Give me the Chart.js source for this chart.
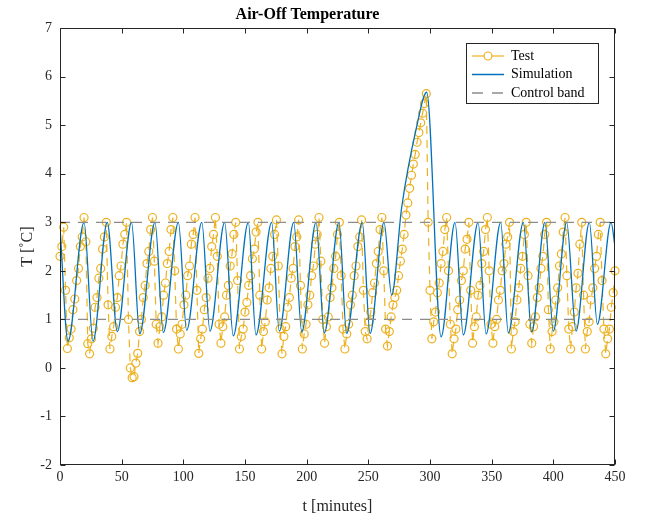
<!DOCTYPE html>
<html>
<head>
<meta charset="utf-8">
<script src="https://cdn.jsdelivr.net/npm/chart.js@4/dist/chart.umd.min.js"></script>
<style>
  html, body { margin: 0; padding: 0; background: #fff; }
</style>
</head>
<body>
<canvas id="chart" width="645" height="520"></canvas>
<script>
// measured air-off temperature, one sample every 1.5 minutes from t = 0
const testStep = 1.5;
const testTemp = [
  2.3, 2.5, 2.9, 1.6, 0.4, 0.62, 0.8, 1.2, 1.42, 1.8,
  2.05, 2.5, 2.7, 3.1, 2.6, 0.5, 0.29, 0.6, 0.82, 1.25,
  1.45, 1.85, 2.05, 2.45, 2.7, 3.0, 1.3, 0.39, 0.65, 0.85,
  1.25, 1.45, 1.9, 2.1, 2.55, 2.75, 3.0, 1.0, 0.0, -0.2,
  -0.18, 0.1, 0.3, 0.75, 1.0, 1.45, 1.7, 2.15, 2.4, 2.85,
  3.1, 2.2, 0.9, 0.51, 0.85, 1.05, 1.5, 1.75, 2.15, 2.4,
  2.85, 3.1, 2.0, 0.8, 0.39, 0.7, 0.9, 1.3, 1.5, 1.9,
  2.1, 2.55, 2.75, 3.1, 1.6, 0.3, 0.6, 0.8, 1.2, 1.45,
  1.85, 2.05, 2.5, 2.75, 3.1, 2.3, 0.9, 0.51, 0.85, 1.05,
  1.5, 1.7, 2.1, 2.35, 2.75, 3.0, 1.8, 0.39, 0.65, 0.8,
  1.15, 1.35, 1.7, 1.9, 2.25, 2.45, 2.8, 3.0, 1.5, 0.39,
  0.75, 0.95, 1.4, 1.65, 2.05, 2.3, 2.75, 3.05, 2.1, 0.8,
  0.29, 0.65, 0.85, 1.25, 1.45, 1.85, 2.05, 2.5, 2.7, 3.05,
  1.7, 0.39, 0.7, 0.9, 1.3, 1.5, 1.9, 2.1, 2.55, 2.75,
  3.1, 2.2, 1.0, 0.51, 0.85, 1.05, 1.45, 1.65, 2.05, 2.3,
  2.75, 3.0, 1.9, 0.8, 0.39, 0.7, 0.9, 1.3, 1.5, 1.9,
  2.1, 2.5, 2.7, 3.05, 1.6, 0.75, 0.6, 0.95, 1.15, 1.55,
  1.75, 2.15, 2.4, 2.85, 3.1, 2.0, 0.8, 0.45, 0.75, 1.05,
  1.3, 1.45, 1.6, 1.9, 2.2, 2.45, 2.75, 3.15, 3.4, 3.7,
  3.97, 4.2, 4.4, 4.65, 4.85, 5.05, 5.25, 5.45, 5.65, 3.0,
  1.6, 0.6, 0.95, 1.15, 1.55, 1.75, 2.15, 2.4, 2.85, 3.1,
  2.0, 0.9, 0.29, 0.6, 0.8, 1.2, 1.4, 1.8, 2.0, 2.45,
  2.65, 3.0, 1.6, 0.51, 0.85, 1.05, 1.5, 1.7, 2.15, 2.4,
  2.85, 3.1, 2.0, 0.9, 0.51, 0.85, 1.0, 1.4, 1.6, 2.0,
  2.15, 2.55, 2.7, 3.0, 0.39, 0.75, 0.95, 1.4, 1.65, 2.05,
  2.3, 2.75, 3.0, 1.9, 0.9, 0.51, 0.85, 1.05, 1.45, 1.65,
  2.05, 2.3, 2.75, 3.0, 1.2, 0.39, 0.75, 0.95, 1.4, 1.65,
  2.1, 2.35, 2.8, 3.1, 1.9, 0.8, 0.39, 0.85, 1.15, 1.65,
  1.95, 2.55, 3.0, 1.5, 0.39, 0.75, 0.95, 1.4, 1.65, 2.05,
  2.3, 2.75, 3.0, 1.8, 0.8, 0.29, 0.6, 0.8, 1.25, 1.55,
  2.0
];

// simulation turning points (minutes, deg C)
const simTime = [
  0, 6.5, 19.5, 26.8, 38.3, 46.5, 58, 64.6, 77, 83.8,
  96, 102.7, 115, 121.6, 133.5, 140.5, 152.7, 158.9, 171.6, 177.8,
  189.5, 196, 207.6, 214.3, 226.2, 232.4, 245.1, 251.4, 262.7, 268.9,
  277, 289, 297.3, 309, 320.3, 327, 339, 345.5, 357.3, 363.5,
  375.7, 382.4, 393.2, 400, 410.8, 418.4, 429.2, 435.7, 446.8, 450
];
const simTemp = [
  2.9, 0.55, 3.0, 0.55, 3.0, 0.75, 3.0, 0.7, 3.0, 0.73,
  3.0, 0.78, 3.0, 0.76, 3.0, 0.66, 3.0, 0.68, 3.0, 0.76,
  3.0, 0.74, 3.0, 0.72, 3.0, 0.71, 3.0, 0.71, 3.0, 1.5,
  3.3, 4.95, 5.68, 0.64, 3.0, 0.68, 3.0, 0.7, 3.0, 0.72,
  3.0, 0.74, 3.0, 0.76, 3.0, 0.76, 3.0, 0.9, 3.0, 2.5
];

const bandLevels = [1, 3];
const timeRange = [0, 450];
const tempRange = [-2, 7];
const seriesNames = ["Test", "Simulation", "Control band"];

const orange = "#EDB120";
const blue = "#0072BD";
const grey = "#8c8c8c";
const axisColor = "#262626";
const serif = "'Liberation Serif', 'Times New Roman', serif";

let testPoints = testTemp.map(function (v, i) { return { x: i * testStep, y: v }; });
let simPoints = simTime.map(function (t, i) { return { x: t, y: simTemp[i] }; });

let datasets = [
  {
    label: seriesNames[0],
    data: testPoints,
    borderColor: orange,
    borderWidth: 1.2,
    borderDash: [8, 6],
    pointRadius: 4,
    pointBorderWidth: 1.2,
    pointBorderColor: orange,
    pointBackgroundColor: "rgba(0,0,0,0)",
    clip: false,
    order: 3,
  },
  {
    label: seriesNames[1],
    data: simPoints,
    borderColor: blue,
    borderWidth: 1.3,
    pointRadius: 0,
    cubicInterpolationMode: "monotone",
    order: 2,
  },
];
bandLevels.forEach(function (lvl) {
  datasets.push({
    label: seriesNames[2],
    data: [{ x: timeRange[0], y: lvl }, { x: timeRange[1], y: lvl }],
    borderColor: grey,
    borderWidth: 1.3,
    borderDash: [10, 8],
    pointRadius: 0,
    order: 1,
  });
});

// Matlab-like box with inward ticks, plus the legend
const boxPlugin = {
  id: "box",
  afterDatasetsDraw(chart) {
    const { ctx, chartArea: a, scales } = chart;
    const L = Math.round(a.left) + 0.5, R = Math.round(a.right) - 0.5;
    const T = Math.round(a.top) + 0.5, B = Math.round(a.bottom) - 0.5;
    ctx.save();
    ctx.strokeStyle = axisColor;
    ctx.lineWidth = 1;
    ctx.setLineDash([]);
    ctx.strokeRect(L, T, R - L, B - T);
    ctx.beginPath();
    scales.x.ticks.forEach(function (t) {
      let px = Math.round(scales.x.getPixelForValue(t.value)) + 0.5;
      ctx.moveTo(px, B); ctx.lineTo(px, B - 5);
      ctx.moveTo(px, T); ctx.lineTo(px, T + 5);
    });
    scales.y.ticks.forEach(function (t) {
      let py = Math.round(scales.y.getPixelForValue(t.value)) + 0.5;
      ctx.moveTo(L, py); ctx.lineTo(L + 5, py);
      ctx.moveTo(R, py); ctx.lineTo(R - 5, py);
    });
    ctx.stroke();
    ctx.restore();
  },
  afterDraw(chart) {
    const ctx = chart.ctx;
    const bx = 466.5, by = 43.5, bw = 132, bh = 60;
    ctx.save();
    ctx.fillStyle = "#fff";
    ctx.fillRect(bx, by, bw, bh);
    ctx.strokeStyle = axisColor;
    ctx.lineWidth = 1;
    ctx.strokeRect(bx, by, bw, bh);

    const rows = [56, 74.5, 93];
    const x0 = 472, x1 = 504;
    // Test
    ctx.strokeStyle = orange;
    ctx.lineWidth = 1.2;
    ctx.beginPath();
    ctx.moveTo(x0, rows[0]); ctx.lineTo(x1, rows[0]);
    ctx.stroke();
    ctx.fillStyle = "#fff";
    ctx.beginPath();
    ctx.arc((x0 + x1) / 2, rows[0], 4, 0, Math.PI * 2);
    ctx.fill();
    ctx.stroke();
    // Simulation
    ctx.strokeStyle = blue;
    ctx.lineWidth = 1.5;
    ctx.beginPath();
    ctx.moveTo(x0, rows[1]); ctx.lineTo(x1, rows[1]);
    ctx.stroke();
    // Control band
    ctx.strokeStyle = grey;
    ctx.lineWidth = 1.3;
    ctx.setLineDash([11, 9]);
    ctx.beginPath();
    ctx.moveTo(x0, rows[2]); ctx.lineTo(x1, rows[2]);
    ctx.stroke();
    ctx.setLineDash([]);

    ctx.fillStyle = "#000";
    ctx.font = "14px " + serif;
    ctx.textBaseline = "middle";
    ctx.textAlign = "left";
    seriesNames.forEach(function (name, i) {
      ctx.fillText(name, 511, rows[i]);
    });
    ctx.restore();
  },
};

new Chart(document.getElementById("chart"), {
  type: "line",
  data: { datasets: datasets },
  plugins: [boxPlugin],
  options: {
    responsive: false,
    animation: false,
    devicePixelRatio: 1,
    layout: { padding: { top: 0, right: 30, left: 0, bottom: 0 } },
    plugins: {
      legend: { display: false },
      tooltip: { enabled: false },
      title: {
        display: true,
        text: "Air-Off Temperature",
        color: "#000",
        font: { family: serif, size: 16, weight: "bold" },
        padding: { top: 5, bottom: 4 },
      },
    },
    scales: {
      x: {
        type: "linear",
        min: timeRange[0],
        max: timeRange[1],
        grid: { display: false, drawTicks: false },
        border: { display: false },
        ticks: {
          stepSize: 50,
          color: axisColor,
          padding: 4,
          maxRotation: 0,
          font: { family: serif, size: 14 },
        },
        title: {
          display: true,
          text: "t [minutes]",
          color: axisColor,
          font: { family: serif, size: 16 },
          padding: { top: 2, bottom: 4 },
        },
        afterFit(scale) { scale.height = 55; },
      },
      y: {
        type: "linear",
        min: tempRange[0],
        max: tempRange[1],
        grid: { display: false, drawTicks: false },
        border: { display: false },
        ticks: {
          stepSize: 1,
          color: axisColor,
          padding: 8,
          font: { family: serif, size: 14 },
        },
        title: {
          display: true,
          text: "T [\u02DAC]",
          color: axisColor,
          font: { family: serif, size: 16 },
          padding: { top: 18, bottom: 0 },
        },
        afterFit(scale) { scale.width = 60; },
      },
    },
  },
});
</script>
</body>
</html>
